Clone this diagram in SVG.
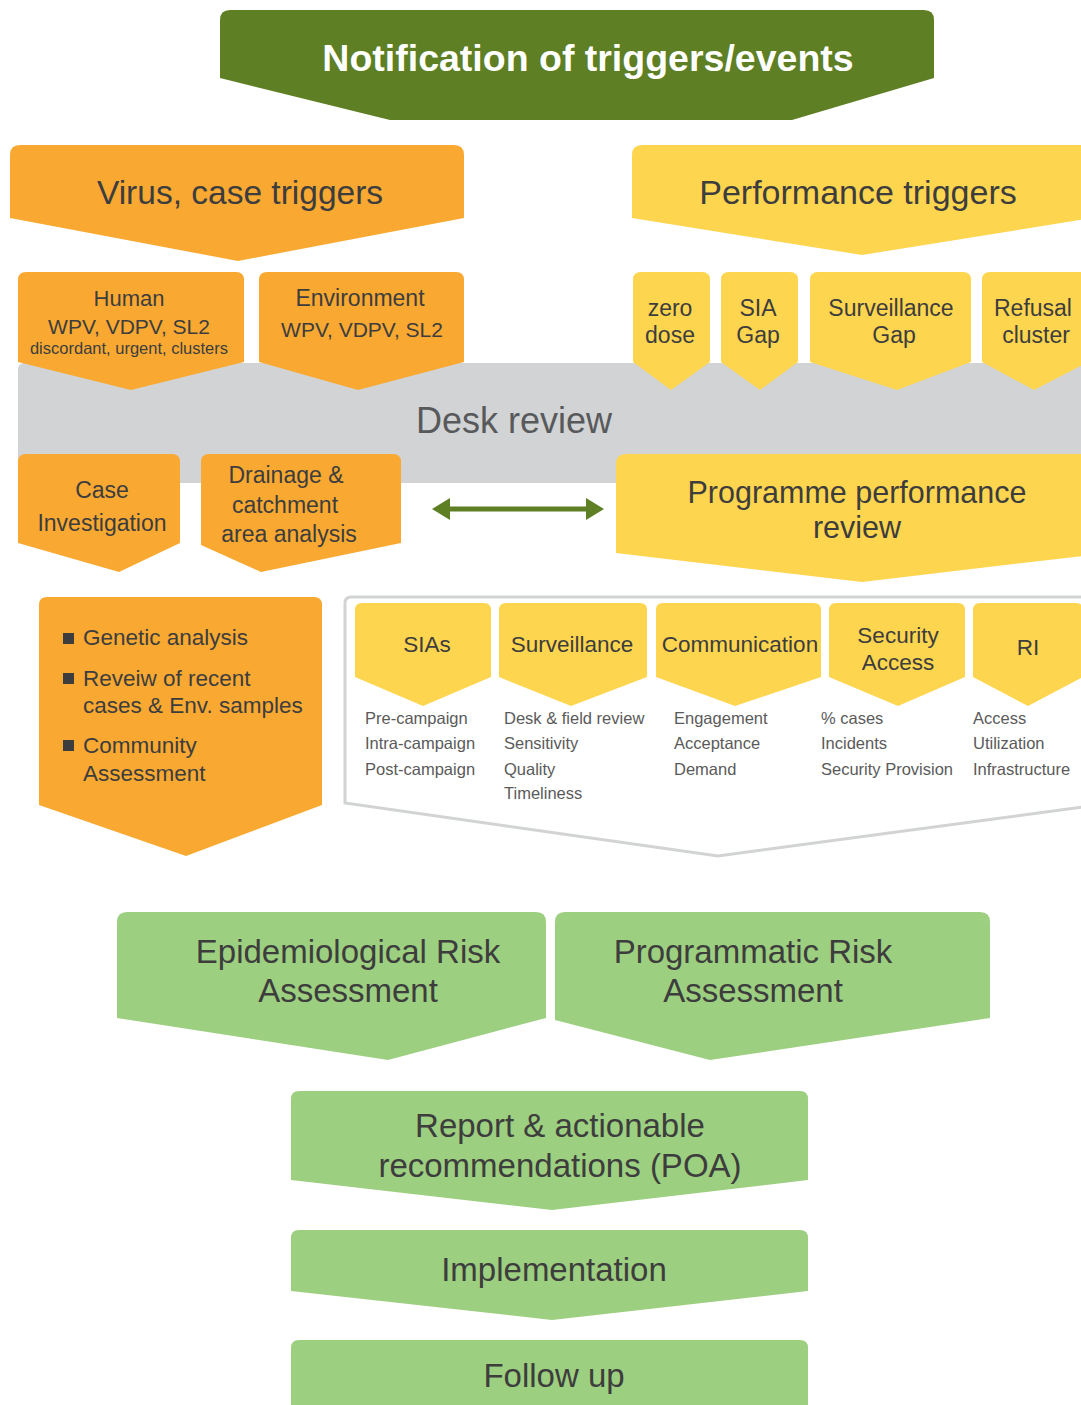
<svg xmlns="http://www.w3.org/2000/svg" width="1081" height="1405" viewBox="0 0 1081 1405">
<defs>
<style>
text{font-family:"Liberation Sans",Arial,sans-serif;fill:#3d3d3d;text-anchor:middle}
.org{fill:#f9a932}
.yel{fill:#fed54f}
.grn{fill:#9dcf80}
.dkg{fill:#5e7f24}
.t23{font-size:23px}
.tab{font-size:22.5px}
.t29{font-size:30.5px}
.t33{font-size:33px}
.sm{font-size:16.5px;fill:#5a5a5a;text-anchor:start}
.bl{font-size:22.5px;text-anchor:start}
</style>
<marker id="ah" markerUnits="userSpaceOnUse" markerWidth="18" markerHeight="22" viewBox="0 0 18 22" refX="4" refY="11" orient="auto-start-reverse">
<path d="M0,0 L18,11 L0,22 Z" fill="#5e7f24"/>
</marker>
</defs>
<rect width="1081" height="1405" fill="#ffffff"/>

<g id="notification">
<path class="dkg" d="M220,20 Q220,10 230,10 H924 Q934,10 934,20 V78 L792,120 H390 L220,78 Z"/>
<text x="588" y="71" style="font-size:37.5px;font-weight:bold;fill:#ffffff">Notification of triggers/events</text>
</g>

<g id="virus-case-triggers">
<path class="org" d="M10,155 Q10,145 20,145 H454 Q464,145 464,155 V218 L238,261 L10,218 Z"/>
<text x="240" y="204" style="font-size:33.5px">Virus, case triggers</text>
</g>

<g id="performance-triggers">
<path class="yel" d="M632,155 Q632,145 642,145 H1082 Q1092,145 1092,155 V218 L862,255 L632,218 Z"/>
<text x="858" y="204" style="font-size:34px">Performance triggers</text>
</g>

<g id="desk-review">
<rect x="18" y="363" width="1090" height="120" rx="6" fill="#d1d3d4"/>
<text x="514" y="433" style="font-size:36px;fill:#58595b">Desk review</text>
</g>

<g id="human">
<path class="org" d="M18,280 Q18,272 26,272 H236 Q244,272 244,280 V362 L131,390 L18,362 Z"/>
<text x="129" y="306" style="font-size:22px">Human</text>
<text x="129" y="334" style="font-size:21px">WPV, VDPV, SL2</text>
<text x="129" y="354" style="font-size:16.5px">discordant, urgent, clusters</text>
</g>

<g id="environment">
<path class="org" d="M259,280 Q259,272 267,272 H456 Q464,272 464,280 V362 L358,390 L259,362 Z"/>
<text x="360" y="306" style="font-size:23px">Environment</text>
<text x="362" y="337" style="font-size:21px">WPV, VDPV, SL2</text>
</g>

<g id="zero-dose">
<path class="yel" d="M633,280 Q633,272 641,272 H702 Q710,272 710,280 V362 L671,390 L633,362 Z"/>
<text class="t23" x="670" y="316">zero</text>
<text class="t23" x="670" y="343">dose</text>
</g>

<g id="sia-gap">
<path class="yel" d="M721,280 Q721,272 729,272 H790 Q798,272 798,280 V362 L760,390 L721,362 Z"/>
<text class="t23" x="758" y="316">SIA</text>
<text class="t23" x="758" y="343">Gap</text>
</g>

<g id="surveillance-gap">
<path class="yel" d="M810,280 Q810,272 818,272 H963 Q971,272 971,280 V362 L897,390 L810,362 Z"/>
<text class="t23" x="891" y="316">Surveillance</text>
<text class="t23" x="894" y="343">Gap</text>
</g>

<g id="refusal-cluster">
<path class="yel" d="M982,280 Q982,272 990,272 H1080 Q1088,272 1088,280 V362 L1034,390 L982,362 Z"/>
<text class="t23" x="1033" y="316">Refusal</text>
<text class="t23" x="1036" y="343">cluster</text>
</g>

<g id="case-investigation">
<path class="org" d="M18,462 Q18,454 26,454 H172 Q180,454 180,462 V543 L119,572 L18,543 Z"/>
<text class="t23" x="102" y="498">Case</text>
<text class="t23" x="102" y="531">Investigation</text>
</g>

<g id="drainage">
<path class="org" d="M201,462 Q201,454 209,454 H393 Q401,454 401,462 V543 L261,572 L201,545 Z"/>
<text class="t23" x="286" y="483">Drainage &amp;</text>
<text class="t23" x="285" y="513">catchment</text>
<text class="t23" x="289" y="542">area analysis</text>
</g>

<g id="programme-performance-review">
<path class="yel" d="M616,464 Q616,454 626,454 H1098 Q1108,454 1108,464 V553 L862,582 L616,553 Z"/>
<text class="t29" x="857" y="503">Programme performance</text>
<text class="t29" x="857" y="538">review</text>
</g>

<g id="epi-analysis">
<path class="org" d="M39,605 Q39,597 47,597 H314 Q322,597 322,605 V805 L186,856 L39,805 Z"/>
<rect x="63" y="633" width="11" height="11" fill="#3d3d3d"/>
<rect x="63" y="673" width="11" height="11" fill="#3d3d3d"/>
<rect x="63" y="740" width="11" height="11" fill="#3d3d3d"/>
<text class="bl" x="83" y="645">Genetic analysis</text>
<text class="bl" x="83" y="686">Reveiw of recent</text>
<text class="bl" x="83" y="713">cases &amp; Env. samples</text>
<text class="bl" x="83" y="753">Community</text>
<text class="bl" x="83" y="781">Assessment</text>
</g>

<g id="performance-areas">
<path d="M351,597 H1084 Q1090,597 1090,603 V806 L718,856 L345,803 V603 Q345,597 351,597 Z" fill="#ffffff" stroke="#d1d3d4" stroke-width="3"/>
</g>

<g id="sias">
<path class="yel" d="M355,610 Q355,603 362,603 H484 Q491,603 491,610 V677 L423,706 L355,677 Z"/>
<text class="tab" x="427" y="652">SIAs</text>
<text class="sm" x="365" y="724">Pre-campaign</text>
<text class="sm" x="365" y="749">Intra-campaign</text>
<text class="sm" x="365" y="775">Post-campaign</text>
</g>

<g id="surveillance">
<path class="yel" d="M499,610 Q499,603 506,603 H640 Q647,603 647,610 V677 L571,706 L499,677 Z"/>
<text class="tab" x="572" y="652">Surveillance</text>
<text class="sm" x="504" y="724">Desk &amp; field review</text>
<text class="sm" x="504" y="749">Sensitivity</text>
<text class="sm" x="504" y="775">Quality</text>
<text class="sm" x="504" y="799">Timeliness</text>
</g>

<g id="communication">
<path class="yel" d="M656,610 Q656,603 663,603 H814 Q821,603 821,610 V677 L735,706 L656,677 Z"/>
<text class="tab" x="740" y="652">Communication</text>
<text class="sm" x="674" y="724">Engagement</text>
<text class="sm" x="674" y="749">Acceptance</text>
<text class="sm" x="674" y="775">Demand</text>
</g>

<g id="security-access">
<path class="yel" d="M829,610 Q829,603 836,603 H958 Q965,603 965,610 V677 L898,706 L829,677 Z"/>
<text class="tab" x="898" y="643">Security</text>
<text class="tab" x="898" y="670">Access</text>
<text class="sm" x="821" y="724">% cases</text>
<text class="sm" x="821" y="749">Incidents</text>
<text class="sm" x="821" y="775">Security Provision</text>
</g>

<g id="ri">
<path class="yel" d="M973,610 Q973,603 980,603 H1076 Q1083,603 1083,610 V677 L1028,706 L973,677 Z"/>
<text class="tab" x="1028" y="655">RI</text>
<text class="sm" x="973" y="724">Access</text>
<text class="sm" x="973" y="749">Utilization</text>
<text class="sm" x="973" y="775">Infrastructure</text>
</g>

<g id="epidemiological-risk">
<path class="grn" d="M117,922 Q117,912 127,912 H536 Q546,912 546,922 V1018 L388,1060 L117,1018 Z"/>
<text class="t33" x="348" y="963">Epidemiological Risk</text>
<text class="t33" x="348" y="1002">Assessment</text>
</g>

<g id="programmatic-risk">
<path class="grn" d="M555,922 Q555,912 565,912 H980 Q990,912 990,922 V1018 L710,1060 L555,1020 Z"/>
<text class="t33" x="753" y="963">Programmatic Risk</text>
<text class="t33" x="753" y="1002">Assessment</text>
</g>

<g id="report">
<path class="grn" d="M291,1099 Q291,1091 299,1091 H800 Q808,1091 808,1099 V1180 L552,1210 L291,1180 Z"/>
<text class="t33" x="560" y="1137">Report &amp; actionable</text>
<text class="t33" x="560" y="1177">recommendations (POA)</text>
</g>

<g id="implementation">
<path class="grn" d="M291,1238 Q291,1230 299,1230 H800 Q808,1230 808,1238 V1291 L552,1320 L291,1291 Z"/>
<text class="t33" x="554" y="1281">Implementation</text>
</g>

<g id="follow-up">
<path class="grn" d="M291,1348 Q291,1340 299,1340 H800 Q808,1340 808,1348 V1420 H291 Z"/>
<text class="t33" x="554" y="1387">Follow up</text>
</g>

<g id="connectors">
<line x1="446" y1="509" x2="590" y2="509" stroke="#5e7f24" stroke-width="5" marker-start="url(#ah)" marker-end="url(#ah)"/>
</g>
</svg>
